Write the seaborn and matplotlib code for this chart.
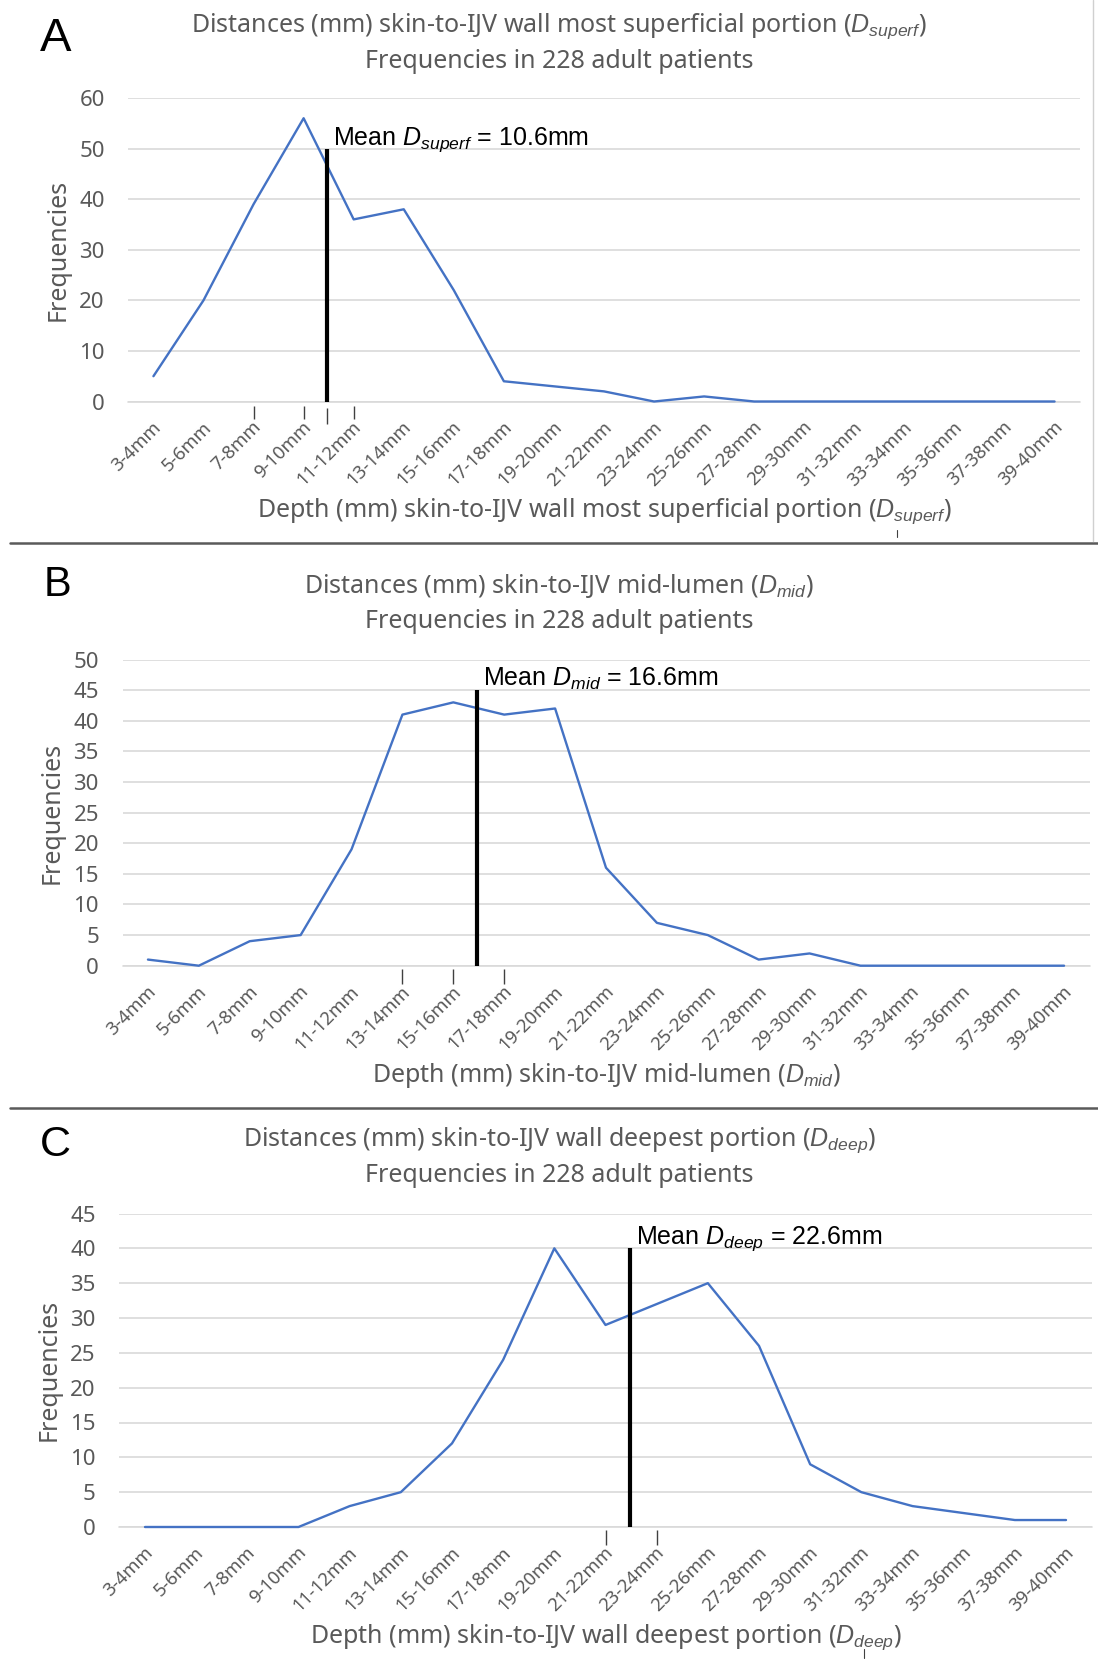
import numpy as np
import pandas as pd
import matplotlib
matplotlib.use("Agg")
import matplotlib.pyplot as plt
from matplotlib.lines import Line2D
from matplotlib.transforms import ScaledTranslation
import seaborn as sns

# ---------------- data ----------------
CATEGORIES = ["3-4mm", "5-6mm", "7-8mm", "9-10mm", "11-12mm", "13-14mm", "15-16mm",
              "17-18mm", "19-20mm", "21-22mm", "23-24mm", "25-26mm", "27-28mm",
              "29-30mm", "31-32mm", "33-34mm", "35-36mm", "37-38mm", "39-40mm"]

FREQ_SUPERF = [5, 20, 39, 56, 36, 38, 22, 4, 3, 2, 0, 1, 0, 0, 0, 0, 0, 0, 0]
FREQ_MID = [1, 0, 4, 5, 19, 41, 43, 41, 42, 16, 7, 5, 1, 2, 0, 0, 0, 0, 0]
FREQ_DEEP = [0, 0, 0, 0, 3, 5, 12, 24, 40, 29, 32, 35, 26, 9, 5, 3, 2, 1, 1]

MEAN_MM = [10.6, 16.6, 22.6]
MEAN_POS = [3.47, 6.47, 9.48]          # category position of the mean marker
MEAN_TOP = [50, 45, 40]                # height of the mean marker
Y_MAX = [60, 50, 45]
Y_STEP = [10, 5, 5]
PANEL_LETTERS = ["A", "B", "C"]
SUBS = ["superf", "mid", "deep"]
TITLES = ["Distances (mm) skin-to-IJV wall most superficial portion ($D_{superf}$)",
          "Distances (mm) skin-to-IJV mid-lumen ($D_{mid}$)",
          "Distances (mm) skin-to-IJV wall deepest portion ($D_{deep}$)"]
SUBTITLE = "Frequencies in 228 adult patients"
XLABELS = ["Depth (mm) skin-to-IJV wall most superficial portion ($D_{superf}$)",
           "Depth (mm) skin-to-IJV mid-lumen ($D_{mid}$)",
           "Depth (mm) skin-to-IJV wall deepest portion ($D_{deep}$)"]
YLABEL = "Frequencies"
EXTRA_TICKS = [[2, 3, 4], [5, 6, 7], [9, 10]]

# ---------------- style ----------------
sns.set_style("white")
plt.rcParams["font.family"] = ["Noto Sans", "DejaVu Sans"]
plt.rcParams["mathtext.fontset"] = "custom"
plt.rcParams["mathtext.it"] = "Liberation Sans:italic"
plt.rcParams["mathtext.rm"] = "Liberation Sans"
plt.rcParams["mathtext.default"] = "it"

GRAY = "#595959"
LINE_BLUE = "#4472C4"
GRID = "#D9D9D9"

W, H = 1098, 1659
fig = plt.figure(figsize=(W / 100, H / 100), dpi=100)
fig.patch.set_facecolor("white")

# axes boxes in pixel coords: left, right, top, bottom
BOXES = [(128.4, 1079.6, 98.0, 401.5),
         (122.5, 1089.5, 659.5, 965.7),
         (119.4, 1091.6, 1213.5, 1527.0)]
TITLE_Y = [(26, 61), (586, 621), (1140, 1175)]
XLABEL_Y = [511, 1076, 1637]
LETTER_XY = [(40, 51), (44, 596), (40, 1156)]
LETTER_SIZE = [34, 30, 31]
EXTRA_TICK_PX = [(4, 17), (3, 18), (3, 18)]

series = [FREQ_SUPERF, FREQ_MID, FREQ_DEEP]

for i in range(3):
    l, r, t, b = BOXES[i]
    ax = fig.add_axes([l / W, 1 - b / H, (r - l) / W, (b - t) / H])
    df = pd.DataFrame({"bin": CATEGORIES, "freq": series[i]})
    sns.lineplot(data=df, x="bin", y="freq", ax=ax, sort=False, estimator=None,
                 color=LINE_BLUE, linewidth=1.7, clip_on=False, zorder=3)
    ax.set_xlim(-0.5, len(CATEGORIES) - 0.5)
    ax.set_ylim(0, Y_MAX[i])
    ax.set_yticks(np.arange(0, Y_MAX[i] + 1, Y_STEP[i]))
    ax.grid(axis="y", color=GRID, linewidth=1.2)
    ax.grid(axis="x", visible=False)
    for s in ax.spines.values():
        s.set_visible(False)
    ax.axhline(0, color=GRID, linewidth=1.2, zorder=1, clip_on=False)
    ax.tick_params(axis="y", length=0, pad=17, labelsize=16, labelcolor=GRAY)
    ax.tick_params(axis="x", length=0, pad=16.5, labelsize=13.3, labelcolor=GRAY)
    shift = ScaledTranslation(5 / 100, 0, fig.dpi_scale_trans)
    for lab in ax.get_xticklabels():
        lab.set_rotation(45)
        lab.set_ha("right")
        lab.set_va("center")
        lab.set_rotation_mode("anchor")
        lab.set_transform(lab.get_transform() + shift)
    ax.set_xlabel("")
    ax.set_ylabel(YLABEL, fontsize=18, color=GRAY, labelpad=6)

    # mean marker
    ax.vlines(MEAN_POS[i], 0, MEAN_TOP[i], color="black", linewidth=3.0, zorder=4)
    ax.annotate(f"Mean $D_{{{SUBS[i]}}}$ = {MEAN_MM[i]}mm",
                xy=(MEAN_POS[i], MEAN_TOP[i]), xytext=(4, 3), textcoords="offset points",
                ha="left", va="baseline", fontsize=18, color="black",
                family="Liberation Sans")

    # small hand-drawn ticks under the axis
    hpx = (b - t)
    y0, y1 = EXTRA_TICK_PX[i]
    ax.vlines(EXTRA_TICKS[i], -y1 / hpx, -y0 / hpx, transform=ax.get_xaxis_transform(),
              color="#404040", linewidth=1.0, clip_on=False)
    if i == 0:
        ax.vlines(MEAN_POS[i], -22 / hpx, -6 / hpx, transform=ax.get_xaxis_transform(),
                  color="#404040", linewidth=1.0, clip_on=False)

    # titles
    fig.text(559 / W, 1 - TITLE_Y[i][0] / H, TITLES[i], ha="center", va="center",
             fontsize=18, color=GRAY)
    fig.text(559 / W, 1 - TITLE_Y[i][1] / H, SUBTITLE, ha="center", va="center",
             fontsize=18, color=GRAY)
    # x label
    fig.text(((l + r) / 2) / W, 1 - XLABEL_Y[i] / H, XLABELS[i], ha="center", va="center",
             fontsize=18, color=GRAY)
    # panel letter
    fig.text(LETTER_XY[i][0] / W, 1 - LETTER_XY[i][1] / H, PANEL_LETTERS[i],
             ha="left", va="baseline", fontsize=LETTER_SIZE[i], color="black",
             family="Liberation Sans")

# separators and border
for yy in (543, 1108):
    fig.add_artist(Line2D([10 / W, 1.0], [1 - yy / H] * 2, transform=fig.transFigure,
                          color="#5a5a5a", linewidth=1.8))
fig.add_artist(Line2D([1093 / W] * 2, [1.0, 1 - 541 / H], transform=fig.transFigure,
                      color="#d0d0d0", linewidth=1.0))
fig.add_artist(Line2D([897 / W] * 2, [1 - 530 / H, 1 - 537 / H], transform=fig.transFigure,
                      color="#404040", linewidth=0.8))
fig.add_artist(Line2D([864 / W] * 2, [1 - 1649 / H, 1 - 1658 / H], transform=fig.transFigure,
                      color="#404040", linewidth=0.8))

fig.savefig("out.png", dpi=100, facecolor="white")
